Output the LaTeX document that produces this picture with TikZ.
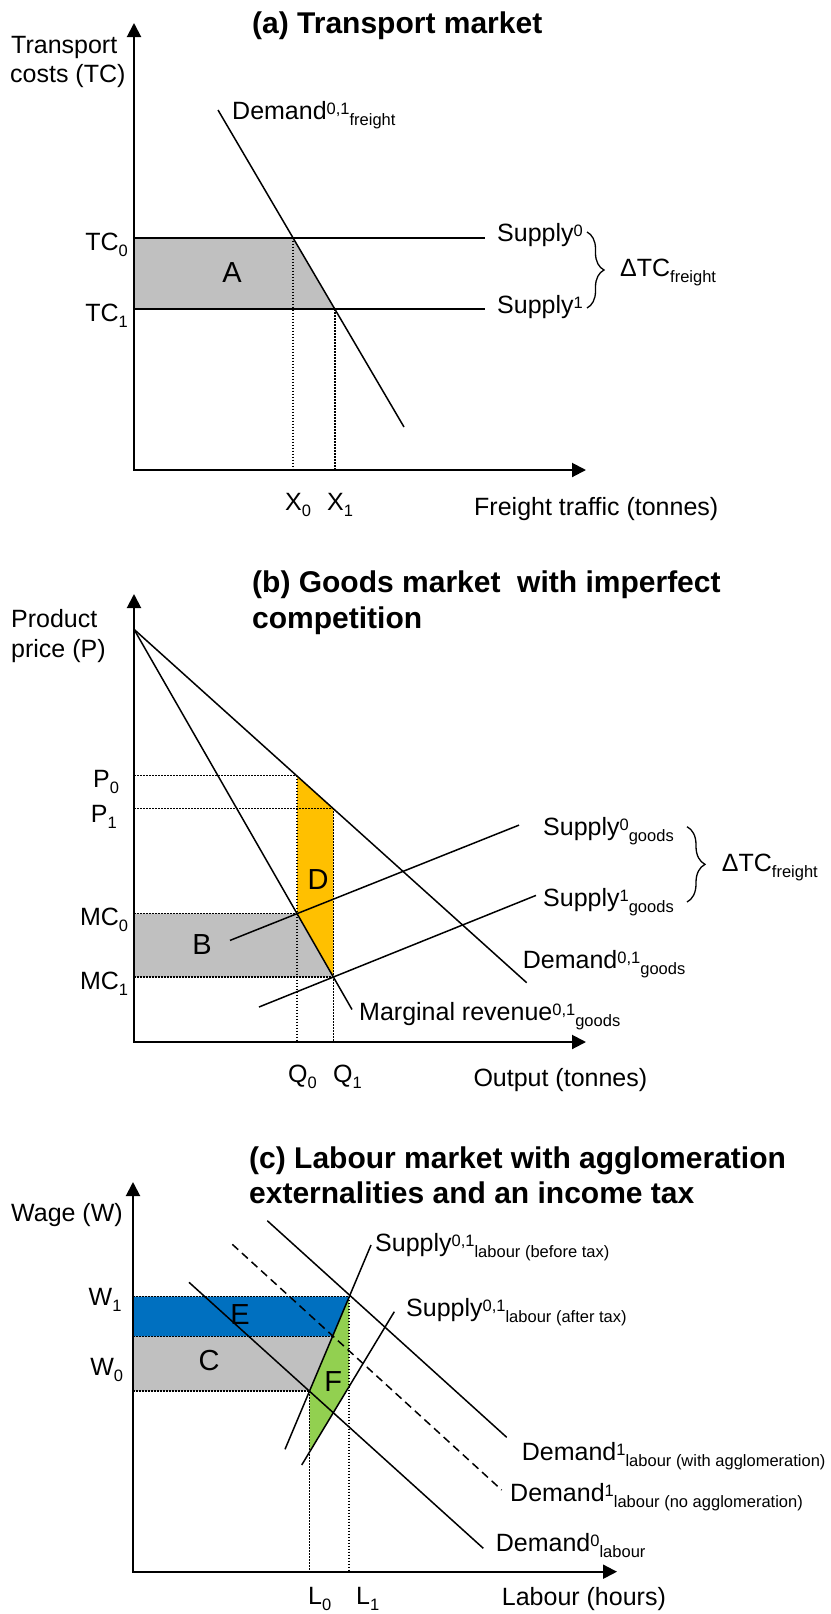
\documentclass[tikz,border=0pt]{standalone}
\usepackage{fontspec}
\setmainfont{Liberation Sans}
\usetikzlibrary{arrows.meta,decorations.pathreplacing}
\definecolor{greyfill}{HTML}{C0C0C0}
\definecolor{orangefill}{HTML}{FFC000}
\definecolor{bluefill}{HTML}{0070C0}
\definecolor{greenfill}{HTML}{92D050}
\newcommand\bodyf{\fontsize{25}{30}\selectfont}
\newcommand\smf{\fontsize{16.5}{19}\selectfont}
\newcommand\titf{\fontsize{30}{36}\selectfont\bfseries}
\newcommand\regf{\fontsize{29}{34}\selectfont}
\newcommand\upx[1]{\raisebox{5pt}{\smf #1}}
\newcommand\dnx[1]{\raisebox{-6pt}{\smf #1}}
\begin{document}
\begin{tikzpicture}[x=1pt,y=-1pt,
  axes/.style={line width=2pt,{Triangle[length=14pt,width=14pt]}-{Triangle[length=14pt,width=14pt]}},
  curve/.style={line width=1.5pt},
  supplyline/.style={line width=2pt},
  guide/.style={line width=1.5pt,dash pattern=on 1.5pt off 1.5pt},
  dashline/.style={line width=1.5pt,dash pattern=on 8pt off 5pt},
  lbl/.style={inner sep=0pt,anchor=base west,font=\bodyf},
  lble/.style={inner sep=0pt,anchor=base east,font=\bodyf},
  ttl/.style={inner sep=0pt,anchor=base west,font=\titf},
  region/.style={inner sep=0pt,font=\regf},
  bracedec/.style={decorate,decoration={brace,amplitude=#1},line width=1.3pt},
]
\useasboundingbox (0,0) rectangle (830,1614);

%% ================= Panel (a) =================
\coordinate (Oa) at (134,470);
\coordinate (Ya) at (134,23);
\coordinate (Xa) at (586,470);
\coordinate (TC0L) at (134,237.5); \coordinate (TC0R) at (485,237.5);
\coordinate (TC1L) at (134,309);   \coordinate (TC1R) at (485,309);
\coordinate (DaS) at (218,110);    \coordinate (DaE) at (404,427);
\coordinate (Ea0) at (292.8,237.5); \coordinate (Ea1) at (334.8,309);
\coordinate (X0b) at (292.8,470);   \coordinate (X1b) at (334.8,470);
\coordinate (BrAt) at (587,232);    \coordinate (BrAb) at (587,308);

\fill[greyfill] (TC0L) -- (Ea0) -- (Ea1) -- (TC1L) -- cycle;
\draw[guide] (Ea0) -- (X0b);
\draw[guide] (Ea1) -- (X1b);
\draw[supplyline] (TC0L) -- (TC0R);
\draw[supplyline] (TC1L) -- (TC1R);
\draw[curve] (DaS) -- (DaE);
\draw[axes] (Ya) -- (Oa) -- (Xa);
\draw[bracedec=17pt] (BrAt) -- (BrAb);

\node[ttl] (titleA) at (252,33) {(a) Transport market};
\node[lbl] (yaxA1) at (11,53) {Transport};
\node[lbl] (yaxA2) at (10,82) {costs (TC)};
\node[lbl] (demA) at (232,119.3) {Demand\upx{0,1}\dnx{freight}};
\node[lble] (tc0) at (128,250) {TC\dnx{0}};
\node[lble] (tc1) at (128,321) {TC\dnx{1}};
\node[region] (regA) at (232,273) {A};
\node[lbl] (sup0A) at (497,241.7) {Supply\upx{0}};
\node[lbl] (sup1A) at (497,313) {Supply\upx{1}};
\node[lbl] (dtcA) at (620,276) {ΔTC\dnx{freight}};
\node[lbl] (x0) at (285,510) {X\dnx{0}};
\node[lbl] (x1) at (327,510) {X\dnx{1}};
\node[lbl] (xaxA) at (474,515) {Freight traffic (tonnes)};

%% ================= Panel (b) =================
\coordinate (Ob) at (134,1042);
\coordinate (Yb) at (134,594);
\coordinate (Xb) at (586,1042);
\coordinate (Apex) at (134,629.3);
\coordinate (DbE) at (526.7,982.7);
\coordinate (MRE) at (352,1009.5);
\coordinate (P0pt) at (297,775.7);
\coordinate (P1pt) at (333.3,808.3);
\coordinate (MC0pt) at (297,913.7);
\coordinate (MC1pt) at (333.3,977.1);
\coordinate (P0ax) at (134,775.7);
\coordinate (P1ax) at (134,808.3);
\coordinate (MC0ax) at (134,913.7);
\coordinate (MC1ax) at (134,977.1);
\coordinate (Q0b) at (297,1042);
\coordinate (Q1b) at (333.3,1042);
\coordinate (S0S) at (230,940.4);  \coordinate (S0E) at (519,825.1);
\coordinate (S1S) at (259,1007);   \coordinate (S1E) at (536,895.4);
\coordinate (BrBt) at (687,826.7); \coordinate (BrBb) at (687,902);

\fill[orangefill] (P0pt) -- (P1pt) -- (MC1pt) -- (MC0pt) -- cycle;
\fill[greyfill] (MC0ax) -- (MC0pt) -- (MC1pt) -- (MC1ax) -- cycle;
\draw[guide] (P0ax) -- (P0pt);
\draw[guide] (P1ax) -- (P1pt);
\draw[guide] (MC0ax) -- (MC0pt);
\draw[guide] (MC1ax) -- (MC1pt);
\draw[guide] (P0pt) -- (Q0b);
\draw[guide] (P1pt) -- (Q1b);
\draw[curve] (Apex) -- (DbE);
\draw[curve] (Apex) -- (MRE);
\draw[curve] (S0S) -- (S0E);
\draw[curve] (S1S) -- (S1E);
\draw[axes] (Yb) -- (Ob) -- (Xb);
\draw[bracedec=18pt] (BrBt) -- (BrBb);

\node[ttl] (titleB1) at (252,592) {(b) Goods market\ \ with imperfect};
\node[ttl] (titleB2) at (252,628) {competition};
\node[lbl] (yaxB1) at (11,627) {Product};
\node[lbl] (yaxB2) at (11,657) {price (P)};
\node[lble] (p0) at (119.3,787) {P\dnx{0}};
\node[lble] (p1) at (117,822) {P\dnx{1}};
\node[lble] (mc0) at (128.3,925.7) {MC\dnx{0}};
\node[lble] (mc1) at (128.3,989) {MC\dnx{1}};
\node[region] (regB) at (202,945) {B};
\node[region] (regD) at (318,880) {D};
\node[lbl] (sup0B) at (543,835) {Supply\upx{0}\dnx{goods}};
\node[lbl] (sup1B) at (543,906.7) {Supply\upx{1}\dnx{goods}};
\node[lbl] (dtcB) at (721.7,871.7) {ΔTC\dnx{freight}};
\node[lbl] (demB) at (522.7,968) {Demand\upx{0,1}\dnx{goods}};
\node[lbl] (mrB) at (359,1020) {Marginal revenue\upx{0,1}\dnx{goods}};
\node[lbl] (q0) at (288,1082) {Q\dnx{0}};
\node[lbl] (q1) at (333,1082) {Q\dnx{1}};
\node[lbl] (xaxB) at (473.3,1086.7) {Output (tonnes)};

%% ================= Panel (c) =================
\coordinate (Oc) at (133,1571.7);
\coordinate (Yc) at (133,1182);
\coordinate (Xc) at (617,1571.7);
\coordinate (W1ax) at (133,1296.7);
\coordinate (Wmax) at (133,1336.7);
\coordinate (W0ax) at (133,1391);
\coordinate (W1pt) at (349.2,1296.7);
\coordinate (Wmpt) at (332.4,1336.7);
\coordinate (W0pt) at (309.5,1391);
\coordinate (GrnB) at (309.5,1452.1);
\coordinate (GrnR) at (349.2,1386.4);
\coordinate (L0b) at (309.5,1571.7);
\coordinate (L1b) at (349.2,1571.7);
\coordinate (SbS) at (285,1449.3);   \coordinate (SbE) at (371,1245);
\coordinate (SaS) at (301.7,1465);   \coordinate (SaE) at (394.3,1311.7);
\coordinate (D0S) at (189,1282.3);   \coordinate (D0E) at (483.3,1548.3);
\coordinate (D1S) at (267.3,1220.7); \coordinate (D1E) at (506.7,1437.3);
\coordinate (DnS) at (232.3,1244.3); \coordinate (DnE) at (501.7,1490);

\fill[bluefill] (W1ax) -- (W1pt) -- (Wmpt) -- (Wmax) -- cycle;
\fill[greyfill] (Wmax) -- (Wmpt) -- (W0pt) -- (W0ax) -- cycle;
\fill[greenfill] (W1pt) -- (W0pt) -- (GrnB) -- (GrnR) -- cycle;
\draw[guide] (W1ax) -- (W1pt);
\draw[guide] (Wmax) -- (Wmpt);
\draw[guide] (W0ax) -- (W0pt);
\draw[guide] (W0pt) -- (L0b);
\draw[guide] (W1pt) -- (L1b);
\draw[curve] (SbS) -- (SbE);
\draw[curve] (SaS) -- (SaE);
\draw[curve] (D0S) -- (D0E);
\draw[curve] (D1S) -- (D1E);
\draw[dashline] (DnS) -- (DnE);
\draw[axes] (Yc) -- (Oc) -- (Xc);

\node[ttl] (titleC1) at (249,1168) {(c) Labour market with agglomeration};
\node[ttl] (titleC2) at (249,1203) {externalities and an income tax};
\node[lbl] (yaxC) at (11,1221.7) {Wage (W)};
\node[lble] (w1) at (121.7,1305) {W\dnx{1}};
\node[lble] (w0) at (123.3,1375) {W\dnx{0}};
\node[region] (regE) at (240,1315) {E};
\node[region] (regC) at (209,1360.7) {C};
\node[region] (regF) at (333.3,1382) {F};
\node[lbl] (supBT) at (375,1251.7) {Supply\upx{0,1}\dnx{labour (before tax)}};
\node[lbl] (supAT) at (406,1316.7) {Supply\upx{0,1}\dnx{labour (after tax)}};
\node[lbl] (demW) at (521.7,1460) {Demand\upx{1}\dnx{labour (with agglomeration)}};
\node[lbl] (demN) at (510,1501.7) {Demand\upx{1}\dnx{labour (no agglomeration)}};
\node[lbl] (dem0) at (495.7,1551.7) {Demand\upx{0}\dnx{labour}};
\node[lbl] (l0) at (308,1604) {L\dnx{0}};
\node[lbl] (l1) at (356,1604) {L\dnx{1}};
\node[lbl] (xaxC) at (501.7,1605) {Labour (hours)};
\end{tikzpicture}
\end{document}
